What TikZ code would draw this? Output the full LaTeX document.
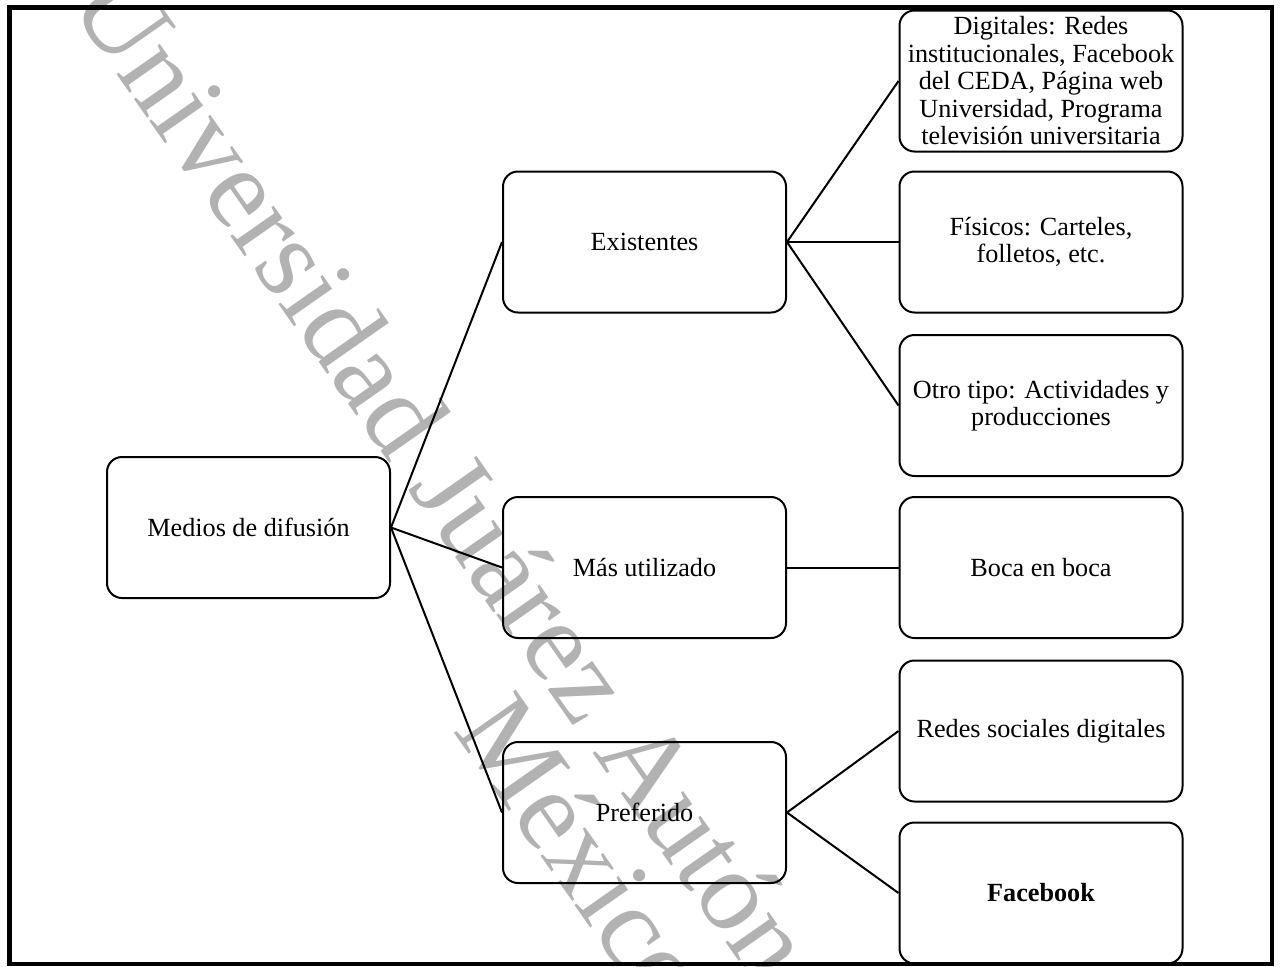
\documentclass[tikz,border=0pt]{standalone}
\usepackage{fontspec}
\setmainfont{Liberation Serif}
\usetikzlibrary{calc}

\begin{document}
\begin{tikzpicture}[x=0.5pt,y=-0.5pt,auto,every text node part/.style={align=center},
	caja/.style={draw,line width=1pt,rounded corners=7.5pt,minimum width=141.5pt,minimum height=70.5pt,inner sep=0pt,font=\fontsize{13.1}{13.75}\selectfont},
	marca/.style={text=black!30,font=\fontsize{57.5}{63}\selectfont,inner sep=0pt,anchor=base west,rotate=-55},
	rama/.style={line width=1pt}]

	\useasboundingbox (0,0) rectangle (1281,966);
	\clip (0,0) rectangle (1281,966);

		% Marca de agua
		\node[marca] (W1) at (68,4) {Universidad Juárez Autónoma de Tabasco};
		\node[marca] (W2) at (452,730) {México};

		% Esquema
        \node[caja] (M) at (248.5,527.5) {Medios de difusión};
        \node[caja] (M-E) at (644.5,242) {Existentes};
        \node[caja] (M-U) at (644.5,567.5) {Más utilizado};
        \node[caja] (M-P) at (644.5,812.5) {Preferido};
        \node[caja] (E-D) at (1041,81) {Digitales: Redes\\institucionales, Facebook\\del CEDA, Página web\\Universidad, Programa\\televisión universitaria};
        \node[caja] (E-F) at (1041,242) {Físicos: Carteles,\\folletos, etc.};
        \node[caja] (E-O) at (1041,405.5) {Otro tipo: Actividades y\\producciones};
        \node[caja] (U-B) at (1041,567.5) {Boca en boca};
        \node[caja] (P-R) at (1041,731) {Redes sociales digitales};
        \node[caja] (P-F) at (1041,893) {\textbf{Facebook}};

    	\draw [rama] (M.east)   to (M-E.west);
		\draw [rama] (M.east)   to (M-U.west);
		\draw [rama] (M.east)   to (M-P.west);
		\draw [rama] (M-E.east) to (E-D.west);
		\draw [rama] (M-E.east) to (E-F.west);
		\draw [rama] (M-E.east) to (E-O.west);
		\draw [rama] (M-U.east) to (U-B.west);
		\draw [rama] (M-P.east) to (P-R.west);
		\draw [rama] (M-P.east) to (P-F.west);

		% Marco
		\draw [line width=2.25pt] (9.5,7.5) rectangle (1272,964);

	\end{tikzpicture}
\end{document}
